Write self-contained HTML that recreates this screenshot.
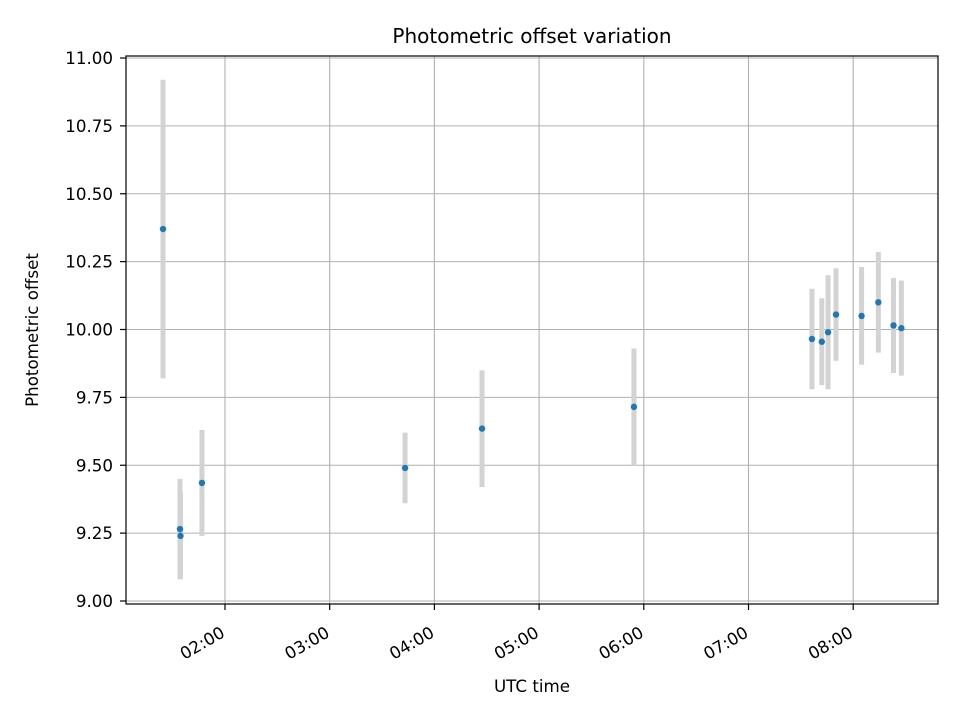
<!DOCTYPE html>
<html><head><meta charset="utf-8"><style>
body{margin:0;background:#fff}
svg text{font-family:"DejaVu Sans","Liberation Sans",sans-serif;fill:#000}
</style></head><body>
<svg id="chart" width="960" height="720" xmlns="http://www.w3.org/2000/svg">
<rect width="960" height="720" fill="#fff"/>
<g id="grid"></g>
<g id="bars"></g>
<g id="pts"></g>
<rect x="126" y="56" width="812" height="548" fill="none" stroke="#000" stroke-width="1.2"/>
<g id="axes"></g>
<text x="532" y="43" font-size="20" text-anchor="middle">Photometric offset variation</text>
<text x="532" y="692" font-size="16.7" text-anchor="middle">UTC time</text>
<text transform="translate(38,330) rotate(-90)" font-size="16.7" text-anchor="middle">Photometric offset</text>
</svg>
<script>
// times in decimal hours UTC
const times = [1.408, 1.570, 1.575, 1.780, 3.720, 4.455, 5.906, 7.606, 7.700, 7.760, 7.836, 8.080, 8.240, 8.385, 8.460];
const offsets = [10.37, 9.265, 9.24, 9.435, 9.49, 9.635, 9.715, 9.965, 9.955, 9.99, 10.055, 10.05, 10.10, 10.015, 10.005];
const errors = [0.55, 0.185, 0.16, 0.195, 0.13, 0.215, 0.215, 0.185, 0.16, 0.21, 0.17, 0.18, 0.185, 0.175, 0.175];
const yTicks = [9.00, 9.25, 9.50, 9.75, 10.00, 10.25, 10.50, 10.75, 11.00];
const xTickHours = [2, 3, 4, 5, 6, 7, 8];
const xTickLabels = ["02:00", "03:00", "04:00", "05:00", "06:00", "07:00", "08:00"];

const NS = "http://www.w3.org/2000/svg";
const xs = h => 225 + (h - 2) * 104.7;
const ys = v => 601 - (v - 9) * 271.5;
function mk(tag, attrs, parent) {
  const e = document.createElementNS(NS, tag);
  for (const k in attrs) e.setAttribute(k, attrs[k]);
  parent.appendChild(e);
  return e;
}
const grid = document.getElementById('grid'), axes = document.getElementById('axes');
const bars = document.getElementById('bars'), pts = document.getElementById('pts');
yTicks.forEach(v => {
  const y = ys(v);
  const g = mk('line', {x1: 126, x2: 938, y1: y, y2: y, stroke: '#b0b0b0', 'stroke-width': 1.1}, grid);
  
  
  const t = mk('line', {x1: 120, x2: 126, y1: y, y2: y, stroke: '#000', 'stroke-width': 1.2}, axes);
  
  
  const l = mk('text', {x: 113, y: y + 6, 'font-size': 16.7, 'text-anchor': 'end'}, axes);
  l.textContent = v.toFixed(2);
  
  
});
xTickHours.forEach((h, i) => {
  const x = xs(h);
  const g = mk('line', {x1: x, x2: x, y1: 56, y2: 604, stroke: '#b0b0b0', 'stroke-width': 1.1}, grid);
  
  
  const t = mk('line', {x1: x, x2: x, y1: 604, y2: 610, stroke: '#000', 'stroke-width': 1.2}, axes);
  
  
  const l = mk('text', {transform: `translate(${x + 1},${636}) rotate(-30)`, 'font-size': 16.7, 'text-anchor': 'end'}, axes);
  l.textContent = xTickLabels[i];
  
  
});
times.forEach((h, i) => {
  const x = xs(h);
  const b = mk('line', {x1: x, x2: x, y1: ys(offsets[i] + errors[i]), y2: ys(offsets[i] - errors[i]), stroke: '#d3d3d3', 'stroke-width': 5}, bars);
  
  
  const c = mk('circle', {cx: x, cy: ys(offsets[i]), r: 3.2, fill: '#1f77b4'}, pts);
  
  
});
</script>
</body></html>
